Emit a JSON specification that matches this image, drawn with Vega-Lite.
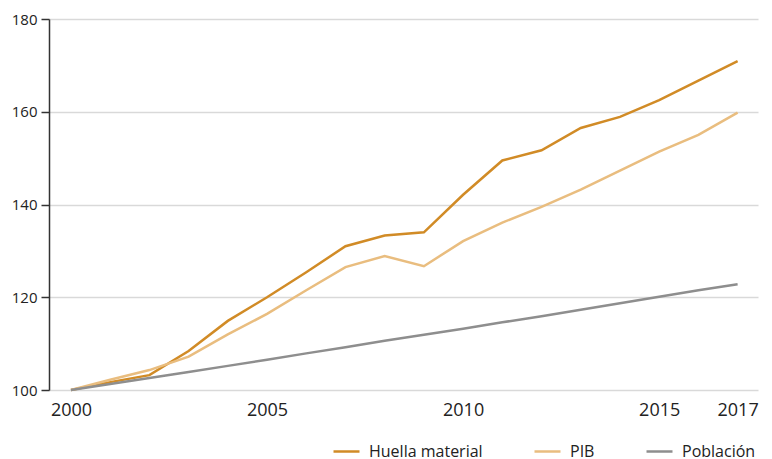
{
  "$schema": "https://vega.github.io/schema/vega-lite/v6.json",
  "width": 709,
  "height": 371,
  "autosize": "none",
  "padding": {"left": 49, "top": 19, "right": 14, "bottom": 69},
  "background": "white",
  "config": {
    "font": "Open Sans",
    "view": {"stroke": null}
  },
  "data": {
    "values": [
      {"year": 2000, "serie": "Huella material", "valor": 100},
      {"year": 2001, "serie": "Huella material", "valor": 101.7},
      {"year": 2002, "serie": "Huella material", "valor": 103.2},
      {"year": 2003, "serie": "Huella material", "valor": 108.4},
      {"year": 2004, "serie": "Huella material", "valor": 114.9},
      {"year": 2005, "serie": "Huella material", "valor": 120.0},
      {"year": 2006, "serie": "Huella material", "valor": 125.4},
      {"year": 2007, "serie": "Huella material", "valor": 131.0},
      {"year": 2008, "serie": "Huella material", "valor": 133.3},
      {"year": 2009, "serie": "Huella material", "valor": 134.0},
      {"year": 2010, "serie": "Huella material", "valor": 142.1},
      {"year": 2011, "serie": "Huella material", "valor": 149.5},
      {"year": 2012, "serie": "Huella material", "valor": 151.7},
      {"year": 2013, "serie": "Huella material", "valor": 156.5},
      {"year": 2014, "serie": "Huella material", "valor": 158.9},
      {"year": 2015, "serie": "Huella material", "valor": 162.5},
      {"year": 2016, "serie": "Huella material", "valor": 166.7},
      {"year": 2017, "serie": "Huella material", "valor": 170.9},
      {"year": 2000, "serie": "PIB", "valor": 100},
      {"year": 2001, "serie": "PIB", "valor": 102.2},
      {"year": 2002, "serie": "PIB", "valor": 104.3},
      {"year": 2003, "serie": "PIB", "valor": 107.2},
      {"year": 2004, "serie": "PIB", "valor": 112.0},
      {"year": 2005, "serie": "PIB", "valor": 116.4},
      {"year": 2006, "serie": "PIB", "valor": 121.5},
      {"year": 2007, "serie": "PIB", "valor": 126.5},
      {"year": 2008, "serie": "PIB", "valor": 128.9},
      {"year": 2009, "serie": "PIB", "valor": 126.7},
      {"year": 2010, "serie": "PIB", "valor": 132.1},
      {"year": 2011, "serie": "PIB", "valor": 136.1},
      {"year": 2012, "serie": "PIB", "valor": 139.5},
      {"year": 2013, "serie": "PIB", "valor": 143.2},
      {"year": 2014, "serie": "PIB", "valor": 147.3},
      {"year": 2015, "serie": "PIB", "valor": 151.4},
      {"year": 2016, "serie": "PIB", "valor": 155.0},
      {"year": 2017, "serie": "PIB", "valor": 159.8},
      {"year": 2000, "serie": "Población", "valor": 100},
      {"year": 2001, "serie": "Población", "valor": 101.3},
      {"year": 2002, "serie": "Población", "valor": 102.6},
      {"year": 2003, "serie": "Población", "valor": 103.9},
      {"year": 2004, "serie": "Población", "valor": 105.2},
      {"year": 2005, "serie": "Población", "valor": 106.5},
      {"year": 2006, "serie": "Población", "valor": 107.9},
      {"year": 2007, "serie": "Población", "valor": 109.2},
      {"year": 2008, "serie": "Población", "valor": 110.6},
      {"year": 2009, "serie": "Población", "valor": 111.9},
      {"year": 2010, "serie": "Población", "valor": 113.2},
      {"year": 2011, "serie": "Población", "valor": 114.6},
      {"year": 2012, "serie": "Población", "valor": 115.9},
      {"year": 2013, "serie": "Población", "valor": 117.3},
      {"year": 2014, "serie": "Población", "valor": 118.7},
      {"year": 2015, "serie": "Población", "valor": 120.1},
      {"year": 2016, "serie": "Población", "valor": 121.5},
      {"year": 2017, "serie": "Población", "valor": 122.8}
    ]
  },
  "mark": {"type": "line", "strokeWidth": 2.5, "strokeJoin": "miter"},
  "encoding": {
    "x": {
      "field": "year",
      "type": "quantitative",
      "scale": {"domain": [1999.44, 2017.52], "nice": false, "zero": false},
      "axis": {
        "title": null,
        "values": [2000, 2005, 2010, 2015, 2017],
        "format": "d",
        "domain": false,
        "ticks": false,
        "grid": false,
        "labelFontSize": 18,
        "labelColor": "#222222",
        "labelPadding": 11,
        "labelFlush": false,
        "labelOverlap": false
      }
    },
    "y": {
      "field": "valor",
      "type": "quantitative",
      "scale": {"domain": [100, 180], "nice": false, "zero": false},
      "axis": {
        "title": null,
        "values": [100, 120, 140, 160, 180],
        "domain": true,
        "domainColor": "#333333",
        "domainWidth": 1.5,
        "ticks": true,
        "tickSize": 8,
        "tickColor": "#333333",
        "tickWidth": 1.5,
        "grid": true,
        "gridColor": "#d9d9d9",
        "gridWidth": 1.5,
        "labelFontSize": 15,
        "labelColor": "#222222",
        "labelPadding": 4
      }
    },
    "color": {
      "field": "serie",
      "type": "nominal",
      "scale": {
        "domain": ["Huella material", "PIB", "Población"],
        "range": ["#D18B26", "#E9BD7F", "#8E8E8E"]
      },
      "legend": {
        "title": null,
        "orient": "none",
        "direction": "horizontal",
        "legendX": 283,
        "legendY": 418,
        "padding": 0,
        "gridAlign": "none",
        "symbolType": "stroke",
        "symbolSize": 676,
        "symbolStrokeWidth": 2.5,
        "labelFontSize": 16,
        "labelColor": "#222222",
        "labelOffset": 8,
        "labelLimit": 300,
        "columnPadding": 46
      }
    }
  }
}
